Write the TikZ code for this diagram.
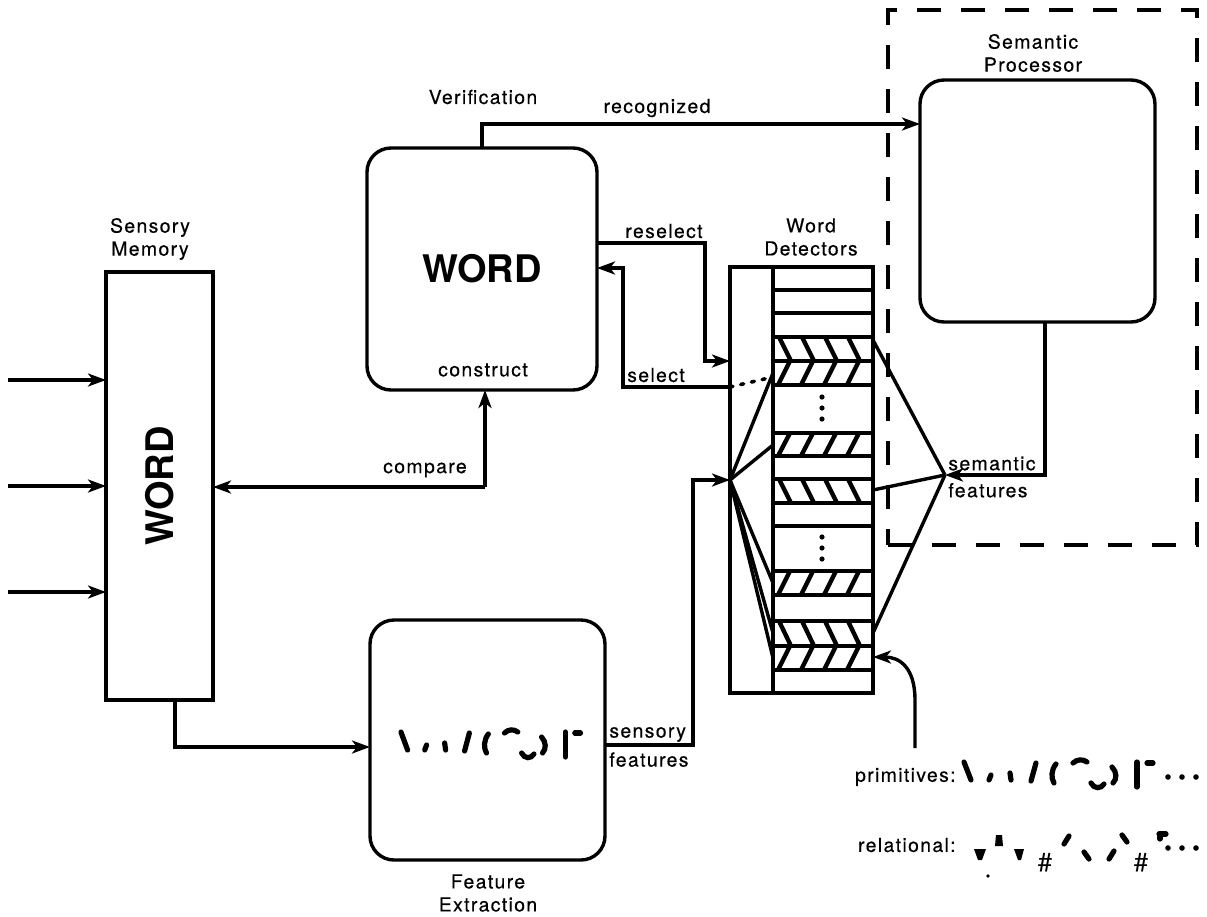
\documentclass[tikz,border=0pt]{standalone}
\usepackage{fontspec}
\setmainfont{TeX Gyre Heros}
\newfontfamily\lblfont{TeX Gyre Heros}[LetterSpace=7, FakeBold=0.4]
\usetikzlibrary{arrows.meta, positioning, calc}

% stroke fragments of the feature primitives
\newcommand{\primstrokes}{%
  \draw[fragline] (1,-13) -- (8,5);
  \draw[fragline] (28,0) -- (26,5);
  \draw[fragline] (47,-2) -- (48,5);
  \draw[fragline] (73,-12) -- (68,6);
  \draw[fragline] (93,-11) .. controls (88,-5) and (88,3) .. (91,8);
  \draw[fragline] (110,-12) .. controls (114,-16) and (120,-16) .. (124,-13);
  \draw[fragline] (128,8) .. controls (131,14) and (138,14) .. (141,9);
  \draw[fragline] (149,-8) .. controls (154,-3) and (154,4) .. (150,8);
  \draw[fragline] (174,-13) -- (174,12);
  \draw[fragline] (184,-12) -- (190,-12);
}

\begin{document}
\begin{tikzpicture}[
    x=0.5pt, y=-0.5pt,
    box/.style={draw, line width=1.7pt, inner sep=0pt, outer sep=0pt},
    roundbox/.style={box, rounded corners=12pt},
    lbl/.style={font=\lblfont\fontsize{9.7}{11.5}\selectfont, inner sep=1pt, align=center},
    bigword/.style={font=\fontsize{19}{22}\selectfont\bfseries},
    wire/.style={line width=1.7pt},
    arr/.style={wire, -{Stealth[length=9pt,width=6.5pt,inset=2.5pt]}},
    fragline/.style={line width=2.6pt, line cap=round},
    hatchline/.style={line width=2.2pt}
]
\useasboundingbox (0,0) rectangle (1207,917);

% boxes
\node[box, minimum width=53.5pt, minimum height=214pt] (sensory) at (159.5,486)
    {\rotatebox{90}{\fontsize{19}{22}\selectfont\bfseries WORD}};
\node[roundbox, bigword, minimum width=115pt, minimum height=121pt] (verif) at (482,269) {WORD};
\node[roundbox, minimum width=117.5pt, minimum height=120pt] (fe) at (487.5,740) {};
\node[roundbox, minimum width=117.5pt, minimum height=121pt] (semproc) at (1037.5,201) {};
\node[box, line width=1.8pt, dash pattern=on 12pt off 10pt, minimum width=154.5pt, minimum height=267.5pt] (semdash) at (1042.5,277.5) {};

% word detectors
\node[box, minimum width=21.5pt, minimum height=213pt] (wdleft) at (751.5,480) {};
\node[box, minimum width=50pt, minimum height=213pt] (wdright) at (823,480) {};
\foreach \y in {290,313,337,361,385,433,456,479,503,526,571,595,621,646,670}
  \draw[wire] (773,\y) -- (873,\y);
% hatched rows, / and \
\foreach \top/\bot in {361/385, 433/456, 571/595, 646/670}
  \foreach \x in {778,801,824,847}
    \draw[hatchline] (\x,\bot) -- (\x+12,\top);
\foreach \top/\bot in {337/361, 479/503, 621/646}
  \foreach \x in {779,802,825,848}
    \draw[hatchline] (\x,\top) -- (\x+12,\bot);
\foreach \y in {397,408,419,537,548,559}
  \fill (822,\y) circle (2.6);

% labels
\node[lbl] (lsm) at (150,239) {Sensory\\Memory};
\node[lbl] (lverif) at (483,97) {Verification};
\node[lbl] (lconstr) at (483,370) {construct};
\node[lbl] (lcmp) at (425,470) {compare};
\node[lbl] (lrec) at (657,108) {recognized};
\node[lbl] (lresel) at (664,231) {reselect};
\node[lbl] (lsel) at (656,375) {select};
\node[lbl] (lwd) at (811,237) {Word\\Detectors};
\node[lbl] (lsp) at (1033,53) {Semantic\\Processor};
\node[lbl, align=left, anchor=west] (lsemf) at (946,477) {semantic\\[2pt]features};
\node[lbl, align=left, anchor=west] (lsf) at (607,747) {sensory\\[3pt]features};
\node[lbl] (lfe) at (488,893) {Feature\\Extraction};
\node[lbl, anchor=east] (lprim) at (958,777) {primitives:};
\node[lbl, anchor=east] (lrel) at (958,845) {relational:};

% connectors
\foreach \y [count=\i] in {380,486,592} {
  \coordinate (in\i) at (8,\y);
  \draw[arr] (in\i) -- (in\i -| sensory.west);
}
\coordinate (cmp) at (485,487);
\draw[arr] (cmp) -- (cmp -| sensory.east);
\draw[arr] (cmp) -- (cmp |- verif.south);

\coordinate (recog) at (482,124);
\draw[arr] (verif.north) -- (recog) -- (recog -| semproc.west);

\coordinate (resel) at (705,243);
\coordinate (resel2) at (705,361);
\draw[arr] (resel -| verif.east) -- (resel) -- (resel2) -- (resel2 -| wdleft.west);

\coordinate (sel) at (623,387);
\coordinate (sel2) at (623,268);
\draw[arr] (sel -| wdleft.west) -- (sel) -- (sel2) -- (sel2 -| verif.east);
\draw[line width=1.8pt, dash pattern=on 1.5pt off 4pt, line cap=round] (sel -| wdleft.west) -- (773,377);

\coordinate (fanL) at (730,480);
\coordinate (fanR) at (945,475);
\coordinate (sf) at (693,745);
\draw[arr] (sf -| fe.east) -- (sf) -- (sf |- fanL) -- (fanL);

\coordinate (smout) at (175,747);
\draw[arr] (smout |- sensory.south) -- (smout) -- (smout -| fe.west);

\coordinate (semf) at (1045,475);
\draw[arr] (semf |- semproc.south) -- (semf) -- (fanR);

\foreach \y in {373,445,583,633,658}
  \draw[wire] (fanL) -- (773,\y);
\foreach \y in {340,490,633}
  \draw[wire] (fanR) -- (873,\y);

\coordinate (prim) at (915,748);
\draw[arr] (prim) -- (915,700) .. controls (915,668) and (900,657) .. (873,657);

% feature fragments
\begin{scope}[shift={(400,745)}, xscale=0.95]
  \primstrokes
\end{scope}
\begin{scope}[shift={(963,775)}]
  \primstrokes
\end{scope}
\foreach \x in {1168,1182,1196} {
  \fill (\x,777) circle (2.8);
  \fill (\x,848) circle (2.8);
}
% relational fragments
\fill (974,849) -- (986,849) -- (982,860) -- (978,860) -- cycle;
\fill (988,876) circle (1.8);
\fill (995,846) -- (1003,846) -- (1002,835) -- (996,835) -- cycle;
\fill (1014,849) -- (1024,849) -- (1021,860) -- (1018,860) -- cycle;
\node[font=\fontsize{13}{13}\selectfont, inner sep=0pt] (hash1) at (1045,863) {\#};
\draw[fragline] (1069,836) -- (1064,844);
\draw[fragline] (1084,852) -- (1089,859);
\draw[fragline] (1114,851) -- (1109,859);
\draw[fragline] (1122,835) -- (1127,842);
\node[font=\fontsize{13}{13}\selectfont, inner sep=0pt] (hash2) at (1141,863) {\#};
\draw[fragline] (1159,834) -- (1166,834);
\draw[fragline] (1160,834) -- (1160,839);
\end{tikzpicture}
\end{document}
